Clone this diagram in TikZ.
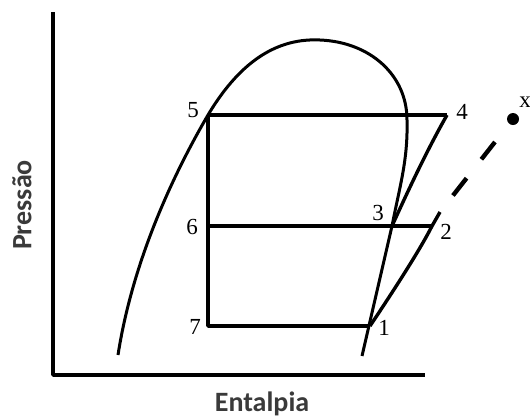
\documentclass[tikz,border=0pt]{standalone}
\usepackage{fontspec}
\setmainfont{Liberation Serif}
\newfontfamily\axisfont{Carlito}
\definecolor{axisgray}{HTML}{3A3A3A}
\begin{document}
\begin{tikzpicture}[x=0.5pt, y=-0.5pt, line join=round,
    every node/.style={font=\fontsize{11.5}{13}\selectfont, inner sep=1pt},
    curve/.style={line width=1.5pt},
    cycleline/.style={line width=1.7pt},
    axisline/.style={line width=1.7pt},
    axislabel/.style={font=\axisfont\fontsize{14}{16}\selectfont\bfseries, text=axisgray}]
  \useasboundingbox (0,0) rectangle (530,419);
  % axes
  \coordinate (O) at (53,375);
  \coordinate (Ytop) at (53,12);
  \coordinate (Xend) at (425,375);
  \draw[axisline] (Ytop)--(O)--(Xend);
  \node[axislabel] (hlabel) at (262,404) {Entalpia};
  \node[axislabel, rotate=90] (plabel) at (22,205) {Pressão};
  % cycle points
  \coordinate (P5) at (208,115);
  \coordinate (P4) at (447,115);
  \coordinate (P6) at (208,226);
  \coordinate (P3) at (392,226);
  \coordinate (P2) at (432,226);
  \coordinate (P7) at (208,326);
  \coordinate (P1) at (370,326);
  \coordinate (E2) at (440,212);
  \coordinate (X) at (513,119);
  % saturation dome
  \coordinate (Lbot) at (118,355);
  \coordinate (Top) at (320,40);
  \coordinate (Rside) at (407,120);
  \coordinate (Rbot) at (362,356);
  \draw[curve] (Lbot) .. controls (132,265) and (170,180) .. (P5)
    .. controls (242,58) and (280,38) .. (Top)
    .. controls (370,42) and (407,75) .. (Rside)
    .. controls (408,160) and (400,185) .. (P3) -- (Rbot);
  % cycle
  \draw[cycleline] (P5)--(P4) (P5)--(P6)--(P7)--(P1) (P6)--(P2);
  \draw[cycleline] (P1) .. controls (392,293) and (420,250) .. (P2) -- (E2);
  \draw[cycleline] (P3) .. controls (407,193) and (426,152) .. (P4);
  \draw[line width=2.2pt, dash pattern=on 11pt off 12pt, dash phase=12.5pt,
    shorten >=8pt] (E2)--(X);
  \fill (X) circle (3pt);
  \node at (462,112) {4};
  \node at (193,110) {5};
  \node at (192,227) {6};
  \node at (195,327) {7};
  \node at (378,213) {3};
  \node at (446,232) {2};
  \node at (384,328) {1};
  \node at (525,102) {x};
\end{tikzpicture}
\end{document}
